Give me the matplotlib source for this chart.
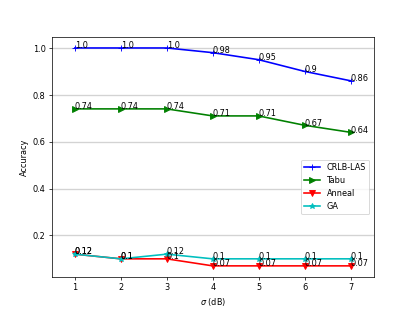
import matplotlib
matplotlib.use("Agg")
import matplotlib.pyplot as plt

sigma = [1, 2, 3, 4, 5, 6, 7]
crlb_las = [1.0, 1.0, 1.0, 0.98, 0.95, 0.9, 0.86]
tabu = [0.74, 0.74, 0.74, 0.71, 0.71, 0.67, 0.64]
anneal = [0.12, 0.1, 0.1, 0.07, 0.07, 0.07, 0.07]
ga = [0.12, 0.1, 0.12, 0.1, 0.1, 0.1, 0.1]

series = [
    ("CRLB-LAS", crlb_las, "b", "+"),
    ("Tabu", tabu, "g", ">"),
    ("Anneal", anneal, "r", "v"),
    ("GA", ga, "c", "*"),
]

plt.rcParams["font.size"] = 9

fig, ax = plt.subplots(figsize=(6.4, 4.8), dpi=64.85)

for label, ys, color, marker in series:
    ax.plot(sigma, ys, color=color, marker=marker, linewidth=1.8, label=label)
    for x, y in zip(sigma, ys):
        ax.annotate(str(round(y, 2)), (x, y), fontsize=9)

ax.set_xlim(0.5, 7.5)
ax.set_xlabel(r"$\sigma$ (dB)")
ax.set_ylabel("Accuracy")
ax.grid(True, axis="y", color="lightgray", linewidth=1.5)
ax.legend(loc="center right", bbox_to_anchor=(1.0, 0.375))

fig.savefig("out.png", dpi=64.85)
